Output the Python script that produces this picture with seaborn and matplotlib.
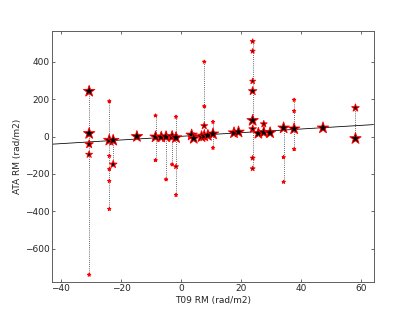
import numpy as np
import pandas as pd
import seaborn as sns
import matplotlib.pyplot as plt

# T09 RM of each source, repeated for every ATA RM candidate of that source
t09_rm = [-30.6, -30.6, -30.6, -30.6, -30.6,
          -23.9, -23.9, -23.9, -23.9, -23.9, -23.9,
          -22.6, -22.6,
          -14.7,
          -8.5, -8.5, -8.5,
          -6.6,
          -5.0, -5.0,
          -3.0, -3.0,
          -1.7, -1.7, -1.7, -1.7,
          3.5, 4.2, 6.8,
          7.7, 7.7, 7.7, 7.7,
          8.9,
          10.6, 10.6, 10.6,
          17.6, 19.1,
          23.8, 23.8, 23.8, 23.8, 23.8, 23.8, 23.8, 23.8,
          25.7,
          27.5, 27.5,
          29.6,
          34.1, 34.1, 34.1,
          37.6, 37.6, 37.6, 37.6,
          47.2,
          58.0, 58.0]

ata_rm = [242, 16, -41, -96, -740,
          188, -20, -104, -175, -238, -388,
          -20, -149,
          0,
          112, -2, -127,
          -3,
          -1, -230,
          0, -150,
          105, -6, -161, -313,
          8, -10, -1,
          400, 161, 57, 3,
          6,
          78, 14, -61,
          20, 24,
          509, 457, 296, 243, 86, 40, -115, -172,
          17,
          22, 67,
          20,
          46, -111, -243,
          196, 136, 41, -68,
          46,
          153, -11]

# relative strength of each candidate (drives marker size)
weight = [3, 3, 2, 1.6, 1,
          1, 3, 1, 1, 1, 1,
          3, 1.8,
          3,
          1, 3, 1,
          3,
          3, 1,
          3, 1,
          1, 3, 1.2, 1,
          3, 3, 3,
          1, 1, 1.6, 3,
          3,
          1, 3, 1,
          3, 3,
          1.2, 1.2, 1.4, 2, 3, 1.8, 1.2, 1.2,
          3,
          3, 1.6,
          3,
          3, 1, 1,
          1, 1, 3, 1,
          3,
          1.8, 3]

fit_slope = 0.98
fit_intercept = 1.0

df = pd.DataFrame({"t09": t09_rm, "ata": ata_rm, "w": weight})

sns.set_style("white")
plt.rcParams.update({"font.size": 12.5, "axes.labelsize": 12.5,
                     "xtick.labelsize": 12.5, "ytick.labelsize": 12.5,
                     "font.family": ["DejaVu Sans"]})

fig, ax = plt.subplots(figsize=(415 / 52, 313 / 52), dpi=52)
fig.subplots_adjust(left=0.125, right=0.9, bottom=0.1, top=0.9)

xlim = (-43, 64)
ax.set_xlim(*xlim)
ax.set_ylim(-777, 563)

# dotted connectors between candidates of the same source
span = df.groupby("t09")["ata"].agg(["min", "max"]).reset_index()
ax.vlines(span["t09"], span["min"], span["max"], colors="0.15",
          linestyles=":", linewidth=1.1, zorder=1)

# fitted relation
fit = pd.DataFrame({"x": np.array(xlim, dtype=float)})
fit["y"] = fit_slope * fit["x"] + fit_intercept
sns.lineplot(data=fit, x="x", y="y", color="k", linewidth=1.1, ax=ax, zorder=2)

sns.scatterplot(data=df, x="t09", y="ata", size="w", sizes=(24, 270),
                marker="*", color="k", edgecolor="r", linewidth=1.3,
                legend=False, ax=ax, zorder=3)

ax.set_xticks([-40, -20, 0, 20, 40, 60])
ax.set_yticks([-600, -400, -200, 0, 200, 400])
ax.tick_params(direction="in", top=True, right=True, bottom=True, left=True,
               length=4, width=0.8, color="k")
for sp in ax.spines.values():
    sp.set_color("0.35")
    sp.set_linewidth(1.3)

ax.set_xlabel("T09 RM (rad/m2)")
ax.set_ylabel("ATA RM (rad/m2)")

fig.savefig("out.png", dpi=52)
